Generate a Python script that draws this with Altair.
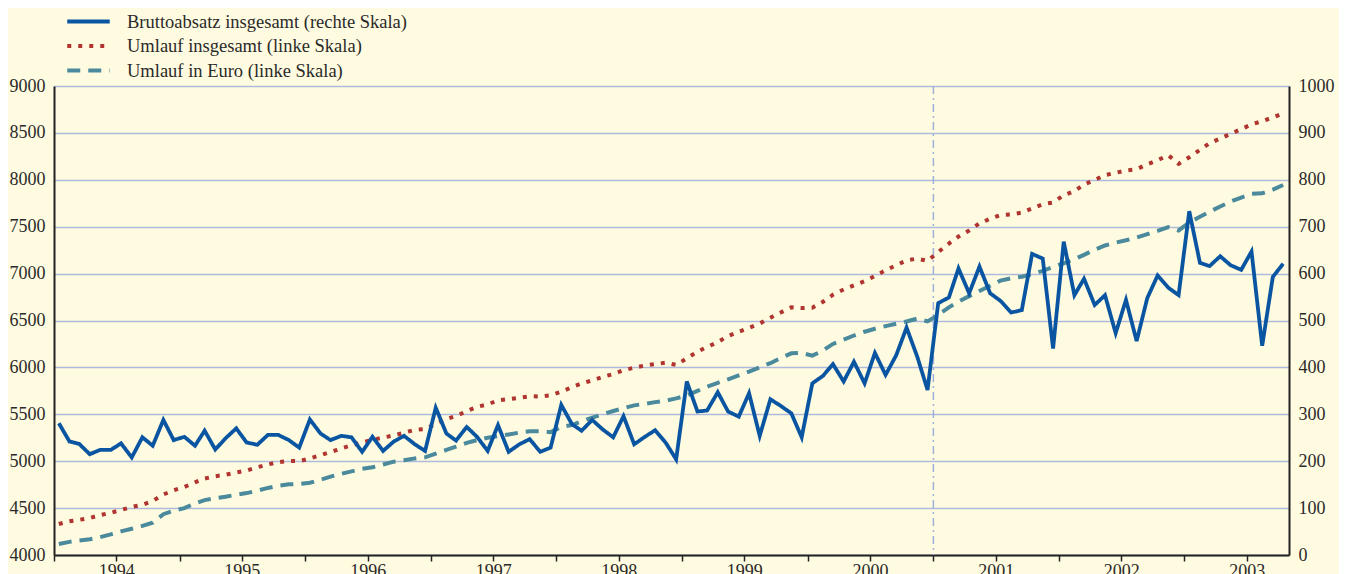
import altair as alt
import pandas as pd

# ---- data (monthly, Jan 1994 - Oct 2003) ----
START = "1994-01-01"
N_MONTHS = 118

# Bruttoabsatz insgesamt (right scale)
BRUTTOABSATZ = [
    281, 242, 237, 215, 224, 224, 238, 208, 251, 233, 288, 245,
    252, 233, 265, 225, 249, 270, 240, 235, 256, 256, 245, 229,
    289, 259, 245, 254, 251, 220, 252, 222, 242, 254, 236, 222,
    314, 259, 244, 273, 252, 222, 277, 220, 236, 247, 220, 229,
    320, 279, 265, 288, 268, 251, 296, 236, 252, 266, 239, 204,
    370, 306, 308, 347, 306, 295, 345, 254, 332, 318, 302, 251,
    366, 382, 407, 370, 412, 366, 431, 384, 426, 485, 423, 352,
    537, 549, 611, 558, 615, 558, 542, 517, 522, 642, 632, 440,
    668, 554, 589, 533, 554, 473, 544, 456, 548, 596, 570, 554,
    733, 623, 616, 637, 618, 608, 647, 446, 593, 621,
]

# Umlauf insgesamt (left scale)
UMLAUF_INSG = [
    4330, 4360, 4375, 4395, 4425, 4450, 4480, 4512, 4535, 4575, 4645, 4690,
    4725, 4775, 4815, 4840, 4855, 4880, 4900, 4935, 4965, 4990, 5003, 5000,
    5030, 5065, 5098, 5135, 5170, 5200, 5228, 5252, 5275, 5303, 5335, 5343,
    5397, 5450, 5482, 5533, 5580, 5605, 5650, 5662, 5677, 5692, 5690, 5703,
    5740, 5790, 5828, 5862, 5897, 5930, 5970, 5997, 6020, 6035, 6050, 6026,
    6097, 6168, 6218, 6270, 6335, 6380, 6422, 6468, 6530, 6585, 6640, 6632,
    6637, 6700, 6775, 6830, 6875, 6920, 6975, 7035, 7090, 7140, 7160, 7135,
    7230, 7320, 7395, 7460, 7535, 7585, 7625, 7632, 7650, 7695, 7740, 7758,
    7835, 7880, 7950, 7998, 8050, 8074, 8100, 8113, 8165, 8210, 8262, 8170,
    8240, 8318, 8390, 8440, 8490, 8540, 8590, 8625, 8665, 8710,
]

# Umlauf in Euro (left scale)
UMLAUF_EURO = [
    4117, 4140, 4155, 4168, 4190, 4220, 4252, 4280, 4310, 4344, 4435, 4472,
    4500, 4550, 4585, 4605, 4622, 4642, 4660, 4685, 4715, 4737, 4753, 4757,
    4770, 4802, 4835, 4865, 4892, 4918, 4935, 4965, 4995, 5010, 5030, 5041,
    5080, 5120, 5155, 5195, 5225, 5250, 5267, 5285, 5305, 5318, 5318, 5310,
    5365, 5385, 5425, 5465, 5500, 5535, 5565, 5595, 5612, 5630, 5645, 5670,
    5700, 5750, 5795, 5835, 5873, 5915, 5955, 6000, 6045, 6100, 6150, 6155,
    6125, 6180, 6250, 6295, 6340, 6380, 6412, 6440, 6465, 6490, 6520, 6490,
    6560, 6640, 6700, 6760, 6815, 6870, 6925, 6950, 6967, 6993, 7030, 7070,
    7110, 7155, 7200, 7255, 7300, 7330, 7355, 7385, 7420, 7455, 7495, 7460,
    7545, 7605, 7660, 7715, 7767, 7810, 7850, 7856, 7895, 7945,
]

SERIES = [
    "Bruttoabsatz insgesamt (rechte Skala)",
    "Umlauf insgesamt (linke Skala)",
    "Umlauf in Euro (linke Skala)",
]
COLORS = ["#0a55a2", "#b0342f", "#4a8a9c"]
DASHES = [[1, 0], [4, 7], [13, 8]]
MARKER_DATES = ["2001-01-01"]
LEFT_TICKS = list(range(4000, 9001, 500))
RIGHT_TICKS = list(range(0, 1001, 100))

FONT = "Liberation Serif"
BG = "#fffbe0"

dates = (pd.date_range(START, periods=N_MONTHS, freq="MS") + pd.Timedelta(days=14)).strftime("%Y-%m-%d")

df_b = pd.DataFrame({"date": dates, "value": BRUTTOABSATZ, "series": SERIES[0]})
df_u = pd.concat([
    pd.DataFrame({"date": dates, "value": UMLAUF_INSG, "series": SERIES[1]}),
    pd.DataFrame({"date": dates, "value": UMLAUF_EURO, "series": SERIES[2]}),
])
df_m = pd.DataFrame({"date": MARKER_DATES})

quarter_ticks = [alt.DateTime(year=y, month=m, date=1, utc=True)
                 for y in range(1994, 2004) for m in (1, 4, 7, 10)]

x_enc = alt.X(
    "date:T",
    scale=alt.Scale(type="utc",
                    domain=[alt.DateTime(year=1994, month=1, date=1, utc=True),
                            alt.DateTime(year=2003, month=11, date=1, utc=True)]),
    axis=alt.Axis(title=None, values=quarter_ticks, grid=False,
                  labelExpr="utcmonth(datum.value) == 6 ? utcyear(datum.value) : ''",
                  labelOverlap=False, labelFlush=False,
                  tickSize=6, tickColor="#222222", tickWidth=1.5,
                  domainColor="#222222", domainWidth=2, labelPadding=1),
)

color_enc = alt.Color("series:N", scale=alt.Scale(domain=SERIES, range=COLORS),
                      legend=alt.Legend(title=None))
dash_enc = alt.StrokeDash("series:N", scale=alt.Scale(domain=SERIES, range=DASHES),
                          legend=alt.Legend(title=None))

umlauf = alt.Chart(df_u).mark_line(strokeWidth=4, strokeCap="butt").encode(
    x=x_enc,
    y=alt.Y("value:Q", scale=alt.Scale(domain=[4000, 9000], nice=False),
            axis=alt.Axis(title=None, orient="left", values=LEFT_TICKS, format="d",
                          grid=True, gridColor="#aebadb", gridWidth=1.5, ticks=False,
                          domainColor="#222222", domainWidth=2, labelPadding=9)),
    color=color_enc,
    strokeDash=dash_enc,
    detail="series:N",
)

brutto = alt.Chart(df_b).mark_line(strokeWidth=3.8, strokeJoin="miter").encode(
    x=x_enc,
    y=alt.Y("value:Q", scale=alt.Scale(domain=[0, 1000], nice=False),
            axis=alt.Axis(title=None, orient="right", values=RIGHT_TICKS, format="d",
                          grid=False, ticks=False, domainColor="#222222",
                          domainWidth=2, labelPadding=9)),
    color=color_enc,
    strokeDash=dash_enc,
)

marker = alt.Chart(df_m).mark_rule(color="#9fb0dc", strokeWidth=1.5, strokeDash=[8, 4, 2, 4]).encode(
    x=alt.X("date:T", scale=alt.Scale(type="utc"))
)

chart = alt.layer(marker, umlauf, brutto).resolve_scale(y="independent").properties(
    width=1235,
    height=469,
    autosize=alt.AutoSizeParams(type="none"),
    padding={"left": 46, "top": 78, "right": 50, "bottom": 20},
    background=BG,
).configure_view(stroke=None).configure_axis(
    labelFont=FONT, labelFontSize=18, labelColor="#2a2a2a"
).configure_legend(
    orient="none", legendX=24, legendY=-75, padding=0,
    labelFont=FONT, labelFontSize=18.5, labelColor="#2a2a2a",
    symbolType="M-2.5,0H2.5", symbolSize=289, symbolStrokeWidth=4,
    labelOffset=28, rowPadding=4.5, labelLimit=500,
)

chart.save("out.html", embed_options={"renderer": "svg", "actions": False})
